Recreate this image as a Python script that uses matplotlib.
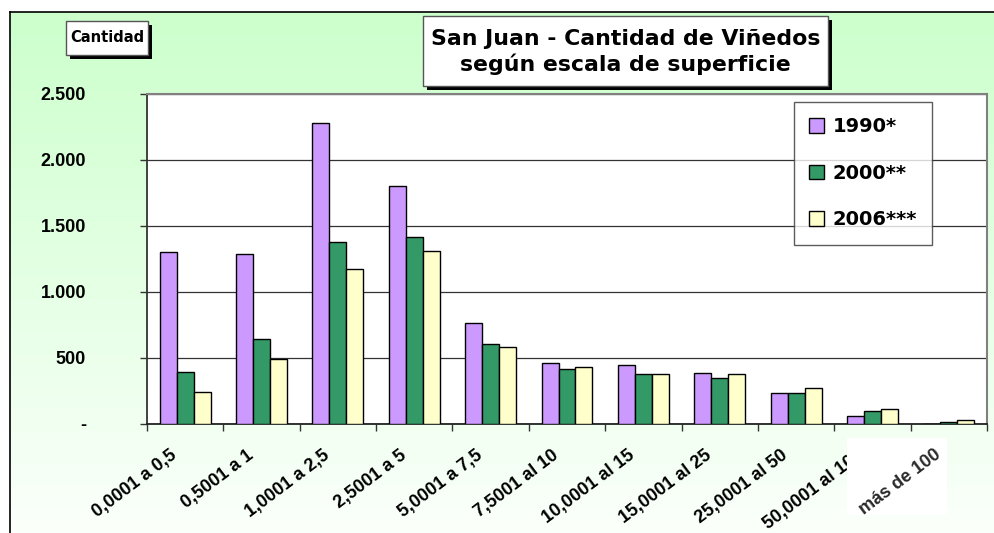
import numpy as np
import matplotlib
matplotlib.use("Agg")
import matplotlib.pyplot as plt
from matplotlib.patches import Rectangle

categories = ["0,0001 a 0,5", "0,5001 a 1", "1,0001 a 2,5", "2,5001 a 5",
              "5,0001 a 7,5", "7,5001 al 10", "10,0001 al 15", "15,0001 al 25",
              "25,0001 al 50", "50,0001 al 100", "más de 100"]
v1990 = [1305, 1288, 2280, 1803, 765, 462, 447, 386, 235, 60, 0]
v2000 = [394, 644, 1379, 1417, 606, 417, 379, 348, 235, 98, 18]
v2006 = [242, 492, 1174, 1311, 583, 432, 379, 379, 273, 113, 30]
series_names = ["1990*", "2000**", "2006***"]
colors = ["#CC99FF", "#339966", "#FFFFCC"]
yticks = [0, 500, 1000, 1500, 2000, 2500]
ytick_labels = ["-", "500", "1.000", "1.500", "2.000", "2.500"]

W, H = 994, 533
fig = plt.figure(figsize=(W / 100, H / 100), dpi=100)
fig.patch.set_facecolor("white")

def fx(px):
    return px / W

def fy(py):
    return 1 - py / H

# background gradient inside frame
bg = fig.add_axes([fx(10), 0, 1 - fx(10), fy(12)])
grad = np.linspace(0, 1, 256).reshape(-1, 1)
top = np.array([0.80, 1.0, 0.80])
bot = np.array([0.985, 1.0, 0.985])
img = top[None, None, :] * (1 - grad[:, :, None]) + bot[None, None, :] * grad[:, :, None]
bg.imshow(img, aspect="auto", extent=[0, 1, 0, 1], origin="upper")
bg.set_xlim(0, 1)
bg.set_ylim(0, 1)
bg.set_xticks([])
bg.set_yticks([])
for s in ["right", "bottom"]:
    bg.spines[s].set_visible(False)
for s in ["top", "left"]:
    bg.spines[s].set_color("black")
    bg.spines[s].set_linewidth(1.2)
bg.set_zorder(-10)

ax = fig.add_axes([fx(147), fy(424), fx(987) - fx(147), fy(94) - fy(424)])
ax.set_facecolor("white")
x = np.arange(len(categories))
bw = 0.222
for i, (vals, c, n) in enumerate(zip([v1990, v2000, v2006], colors, series_names)):
    ax.bar(x + (i - 1) * bw, vals, width=bw, color=c, edgecolor="black",
           linewidth=1.0, label=n, zorder=3)

ax.set_xlim(-0.5, len(categories) - 0.5)
ax.set_ylim(0, 2500)
ax.set_yticks(yticks)
ax.set_yticklabels(ytick_labels, fontfamily="Liberation Sans", fontweight="bold", fontsize=13)
ax.yaxis.grid(True, color="#333333", linewidth=0.9, zorder=0)
ax.set_axisbelow(True)
ax.tick_params(axis="y", length=5, width=1, color="#333333", pad=39)
ax.set_xticks(np.arange(len(categories) + 1) - 0.5)
ax.set_xticklabels([])
ax.tick_params(axis="x", length=5, width=1, color="#333333", direction="out")

# category labels drawn as texts below the axis
xt = ax.get_xaxis_transform()
for i, cat in enumerate(categories):
    t = ax.text(i - 0.2, -0.068, cat, transform=xt, rotation=37, ha="right", va="top",
                rotation_mode="anchor", fontfamily="Liberation Sans", fontweight="bold",
                fontsize=13, clip_on=False, zorder=7 if i == len(categories) - 1 else 4)
    if i == len(categories) - 1:
        t.set_color("#2a2a2a")

# white patch clipping the "50,0001 al 100" label as in the original
ax.add_patch(Rectangle((fx(847), fy(515)), fx(100), fy(438) - fy(515),
                       transform=fig.transFigure, facecolor="white",
                       edgecolor="none", zorder=5, clip_on=False))

ax.spines["top"].set_color("#808080")
ax.spines["right"].set_color("#808080")
ax.spines["top"].set_linewidth(1.5)
ax.spines["right"].set_linewidth(1.5)
ax.spines["left"].set_color("#333333")
ax.spines["bottom"].set_color("#222222")
ax.spines["left"].set_linewidth(1.3)
ax.spines["bottom"].set_linewidth(1.3)

leg = ax.legend(loc="upper left", bbox_to_anchor=(fx(794), fy(102)),
                bbox_transform=fig.transFigure, frameon=True, fancybox=False,
                prop={"family": "DejaVu Sans", "weight": "bold", "size": 14},
                handlelength=0.75, handleheight=0.75, handletextpad=0.45,
                labelspacing=1.42, borderpad=0.78, borderaxespad=0)
leg.get_frame().set_edgecolor("#333333")
leg.get_frame().set_linewidth(1.0)
leg.set_zorder(10)

def shadow_box(x0, y0, x1, y1, off=4):
    sh = Rectangle((fx(x0 + off), fy(y1 + off)), fx(x1 - x0), fy(y0) - fy(y1),
                   transform=fig.transFigure, facecolor="black", edgecolor="none", zorder=20)
    bx = Rectangle((fx(x0), fy(y1)), fx(x1 - x0), fy(y0) - fy(y1),
                   transform=fig.transFigure, facecolor="white", edgecolor="#555555",
                   linewidth=1.0, zorder=21)
    fig.patches.extend([sh, bx])

shadow_box(66, 21, 148, 55)
fig.text(fx(107), fy(38), "Cantidad", ha="center", va="center",
         fontfamily="DejaVu Sans", fontweight="bold", fontsize=10.5, zorder=22)

shadow_box(423, 16, 828, 86)
fig.text(fx(625.5), fy(52), "San Juan - Cantidad de Viñedos\nsegún escala de superficie",
         ha="center", va="center", fontfamily="DejaVu Sans", fontweight="bold",
         fontsize=15.8, linespacing=1.3, zorder=22)

fig.savefig("out.png", dpi=100)
